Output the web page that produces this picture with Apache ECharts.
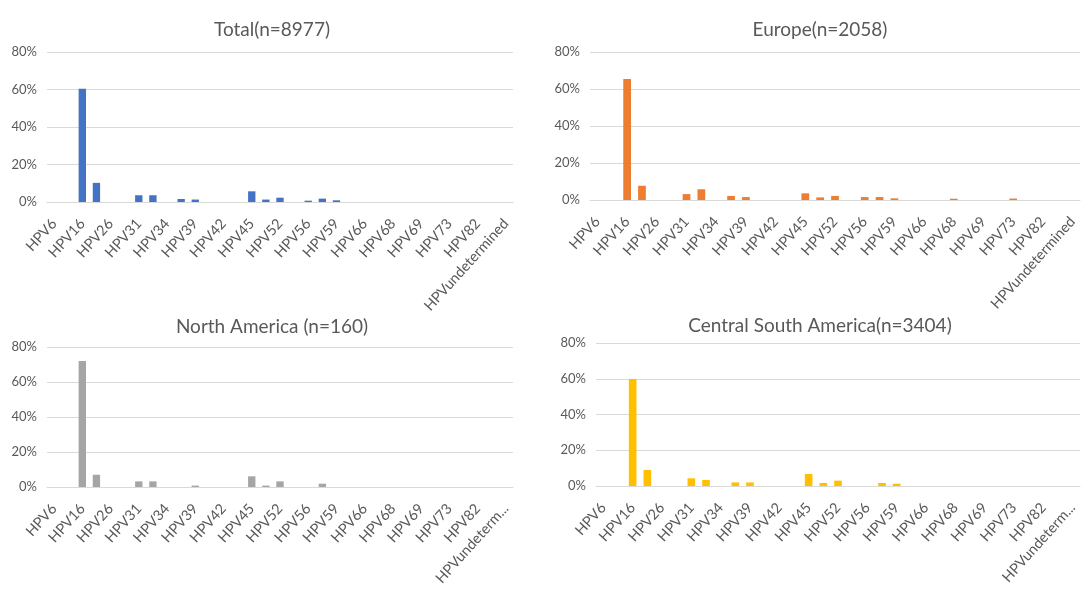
<!DOCTYPE html>
<html><head><meta charset="utf-8">
<script src="https://cdn.jsdelivr.net/npm/echarts@6/dist/echarts.min.js"></script>
<style>html,body{margin:0;padding:0;background:#fff}#c{width:1083px;height:599px}</style>
</head><body><div id="c"></div>
<script>
const categories = ['HPV6','HPV11','HPV16','HPV18','HPV26','HPV30','HPV31','HPV33','HPV34','HPV35','HPV39','HPV40','HPV42','HPV44','HPV45','HPV51','HPV52','HPV53','HPV56','HPV58','HPV59','HPV61','HPV66','HPV67','HPV68','HPV68/73','HPV69','HPV70','HPV73','HPV74','HPV82','HPVX','HPVundetermined'];
const titles = ['Total(n=8977)','Europe(n=2058)','North America (n=160)','Central South America(n=3404)'];
const totalValues  = [0,0,60.4,10.2,0,0,3.6,3.6,0,1.6,1.3,0,0,0,5.7,1.3,2.3,0,0.7,1.8,0.9,0,0,0,0,0,0,0,0,0,0,0,0];
const europeValues = [0,0,65.4,7.7,0,0,3.2,5.8,0,2.2,1.6,0,0,0,3.6,1.4,2.2,0,1.6,1.6,0.9,0,0,0,0.7,0,0,0,0.8,0,0,0,0];
const naValues     = [0,0,72.0,7.0,0,0,3.2,3.2,0,0,0.8,0,0,0,6.1,0.8,3.2,0,0,1.9,0,0,0,0,0,0,0,0,0,0,0,0,0];
const csaValues    = [0,0,59.8,9.0,0,0,4.3,3.4,0,2.0,2.0,0,0,0,6.7,1.7,3.0,0,0,1.7,1.3,0,0,0,0,0,0,0,0,0,0,0,0];
const yTicks = [0,20,40,60,80];

const colors = ['#4472C4','#ED7D31','#A5A5A5','#FFC000'];
const seriesData = [totalValues, europeValues, naValues, csaValues];
const grids = [
  {left:47, width:466, top:52, height:150},
  {left:590, width:490, top:52, height:148},
  {left:47, width:466, top:347, height:140},
  {left:596, width:484, top:343, height:143}
];
const titlePos = [[267,15],[815,15],[267,312],[815,311]];
const font = 'Lato, "Open Sans", sans-serif';
const txt = '#595959';

const chart = echarts.init(document.getElementById('c'), null, {renderer:'canvas'});
chart.setOption({
  animation:false,
  backgroundColor:'#fff',
  title: titles.map((t,i)=>({text:t, left:titlePos[i][0], top:titlePos[i][1], textAlign:'center',
    textStyle:{fontFamily:font, fontSize:19, fontWeight:'normal', color:txt}})),
  grid: grids,
  xAxis: grids.map((g,i)=>({type:'category', gridIndex:i, data:categories,
    axisTick:{show:false}, axisLine:{lineStyle:{color:'#D9D9D9'}},
    axisLabel:{interval:1, rotate:48, fontFamily:font, fontSize:14.5, color:txt, margin:19,
      width: i>=2 ? 104 : 200, overflow:'truncate', ellipsis:'...'}})),
  yAxis: grids.map((g,i)=>({type:'value', gridIndex:i, min:yTicks[0], max:yTicks[yTicks.length-1], interval:20,
    axisLine:{show:false}, axisTick:{show:false},
    splitLine:{lineStyle:{color:'#D9D9D9'}},
    axisLabel:{formatter:v=>v+'%', fontFamily:font, fontSize:13, color:txt, margin:10}})),
  series: seriesData.map((d,i)=>({type:'bar', xAxisIndex:i, yAxisIndex:i, data:d,
    barWidth:'52%', itemStyle:{color:colors[i]}}))
});
</script></body></html>
